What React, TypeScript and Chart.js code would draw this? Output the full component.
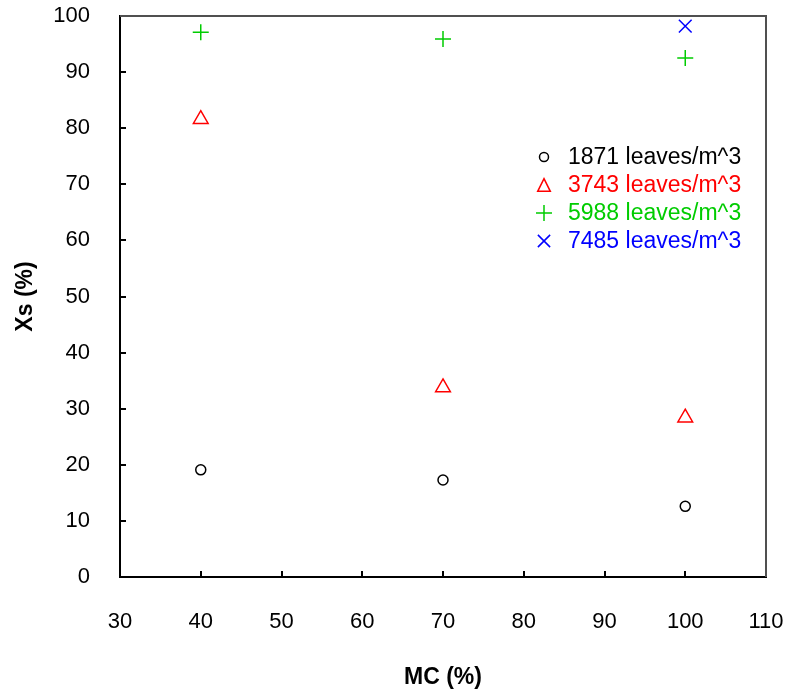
import React, { useEffect, useRef } from "react";
import { Chart, registerables } from "chart.js";

Chart.register(...registerables);

const mcValues = [40, 70, 100];
const series1871 = [19.1, 17.3, 12.6];
const series3743 = [81.6, 33.8, 28.4];
const series5988 = [97.1, 95.9, 92.5];
const mc7485 = [100];
const series7485 = [98.2];
const seriesLabels = ["1871 leaves/m^3", "3743 leaves/m^3", "5988 leaves/m^3", "7485 leaves/m^3"];
const seriesColors = ["#000000", "#ff0000", "#00cc00", "#0000ff"];

const FONT = "'Liberation Sans', Arial, sans-serif";

const toPoints = (xs: number[], ys: number[]) => xs.map((x, i) => ({ x, y: ys[i] }));

function drawMarker(ctx: CanvasRenderingContext2D, style: string, x: number, y: number, r: number, color: string, lw: number) {
  ctx.save();
  ctx.strokeStyle = color;
  ctx.lineWidth = lw;
  ctx.beginPath();
  if (style === "circle") {
    ctx.arc(x, y, r, 0, Math.PI * 2);
  } else if (style === "triangle") {
    const h = r * 1.8;
    const w = r * 1.8;
    ctx.moveTo(x, y - h / 2);
    ctx.lineTo(x + w / 2, y + h / 2);
    ctx.lineTo(x - w / 2, y + h / 2);
    ctx.closePath();
  } else if (style === "cross") {
    ctx.moveTo(x - r, y);
    ctx.lineTo(x + r, y);
    ctx.moveTo(x, y - r);
    ctx.lineTo(x, y + r);
  } else if (style === "crossRot") {
    const d = r * 0.72;
    ctx.moveTo(x - d, y - d);
    ctx.lineTo(x + d, y + d);
    ctx.moveTo(x - d, y + d);
    ctx.lineTo(x + d, y - d);
  }
  ctx.stroke();
  ctx.restore();
}

const legendStyles = ["circle", "triangle", "cross", "crossRot"];
const legendRadii = [4.5, 7, 8, 8.5];

const framePlugin = {
  id: "frameAndLegend",
  afterDraw(chart: any) {
    const { ctx, chartArea } = chart;
    ctx.save();
    ctx.strokeStyle = "#505050";
    ctx.lineWidth = 2;
    ctx.beginPath();
    ctx.moveTo(chartArea.left, chartArea.top);
    ctx.lineTo(chartArea.right, chartArea.top);
    ctx.lineTo(chartArea.right, chartArea.bottom);
    ctx.stroke();
    ctx.restore();

    // legend
    const lx = chartArea.left + 424;
    const ly0 = chartArea.top + 141;
    const gap = 28;
    chart.data.datasets.forEach((ds: any, i: number) => {
      const y = ly0 + i * gap;
      drawMarker(ctx, legendStyles[i], lx, y, legendRadii[i], ds.borderColor, 1.5);
      ctx.save();
      ctx.fillStyle = ds.borderColor;
      ctx.font = `23px ${FONT}`;
      ctx.textBaseline = "middle";
      ctx.textAlign = "left";
      ctx.fillText(ds.label, lx + 24, y + 1);
      ctx.restore();
    });
  },
};

const zeroPadding = (scale: any) => {
  scale.paddingTop = 0;
  scale.paddingBottom = 0;
  scale.paddingLeft = 0;
  scale.paddingRight = 0;
};

export default function App() {
  const canvasRef = useRef<HTMLCanvasElement | null>(null);

  useEffect(() => {
    if (!canvasRef.current) return;
    const chart = new Chart(canvasRef.current, {
      type: "scatter",
      data: {
        datasets: [
          {
            label: seriesLabels[0],
            data: toPoints(mcValues, series1871),
            borderColor: seriesColors[0],
            backgroundColor: "transparent",
            pointStyle: "circle",
            pointRadius: 5,
            pointBorderWidth: 1.5,
          },
          {
            label: seriesLabels[1],
            data: toPoints(mcValues, series3743),
            borderColor: seriesColors[1],
            backgroundColor: "transparent",
            pointStyle: "triangle",
            pointRadius: 8.5,
            pointBorderWidth: 1.5,
          },
          {
            label: seriesLabels[2],
            data: toPoints(mcValues, series5988),
            borderColor: seriesColors[2],
            backgroundColor: "transparent",
            pointStyle: "cross",
            pointRadius: 8,
            pointBorderWidth: 1.5,
          },
          {
            label: seriesLabels[3],
            data: toPoints(mc7485, series7485),
            borderColor: seriesColors[3],
            backgroundColor: "transparent",
            pointStyle: "crossRot",
            pointRadius: 9,
            pointBorderWidth: 1.5,
          },
        ],
      },
      options: {
        animation: false,
        responsive: false,
        maintainAspectRatio: false,
        layout: { padding: { top: 16, right: 22, left: 0, bottom: 0 } },
        plugins: {
          legend: { display: false },
          tooltip: { enabled: false },
        },
        scales: {
          x: {
            type: "linear",
            min: 30,
            max: 110,
            ticks: {
              stepSize: 10,
              color: "#000",
              font: { family: FONT, size: 22 },
              padding: 38,
            },
            grid: {
              drawOnChartArea: false,
              drawTicks: true,
              tickLength: -6,
              color: "#000",
              lineWidth: 2,
            },
            border: { display: true, color: "#000", width: 2 },
            title: {
              display: true,
              text: "MC (%)",
              color: "#000",
              font: { family: FONT, size: 23, weight: "bold" },
              padding: { top: 0, bottom: 3 },
            },
            afterFit: (scale: any) => {
              scale.height = 117;
              zeroPadding(scale);
            },
          },
          y: {
            type: "linear",
            min: 0,
            max: 100,
            ticks: {
              stepSize: 10,
              color: "#000",
              font: { family: FONT, size: 22 },
              padding: 36,
            },
            grid: {
              drawOnChartArea: false,
              drawTicks: true,
              tickLength: -6,
              color: "#000",
              lineWidth: 2,
            },
            border: { display: true, color: "#000", width: 2 },
            title: {
              display: true,
              text: "Xs (%)",
              color: "#000",
              font: { family: FONT, size: 23, weight: "bold" },
              padding: { top: 12, bottom: 0 },
            },
            afterFit: (scale: any) => {
              scale.width = 120;
              zeroPadding(scale);
            },
          },
        },
      },
      plugins: [framePlugin],
    } as any);
    return () => chart.destroy();
  }, []);

  return (
    <div style={{ position: "fixed", left: 0, top: 0, width: 788, height: 694, background: "#fff" }}>
      <canvas ref={canvasRef} width={788} height={694} style={{ display: "block" }} />
    </div>
  );
}
